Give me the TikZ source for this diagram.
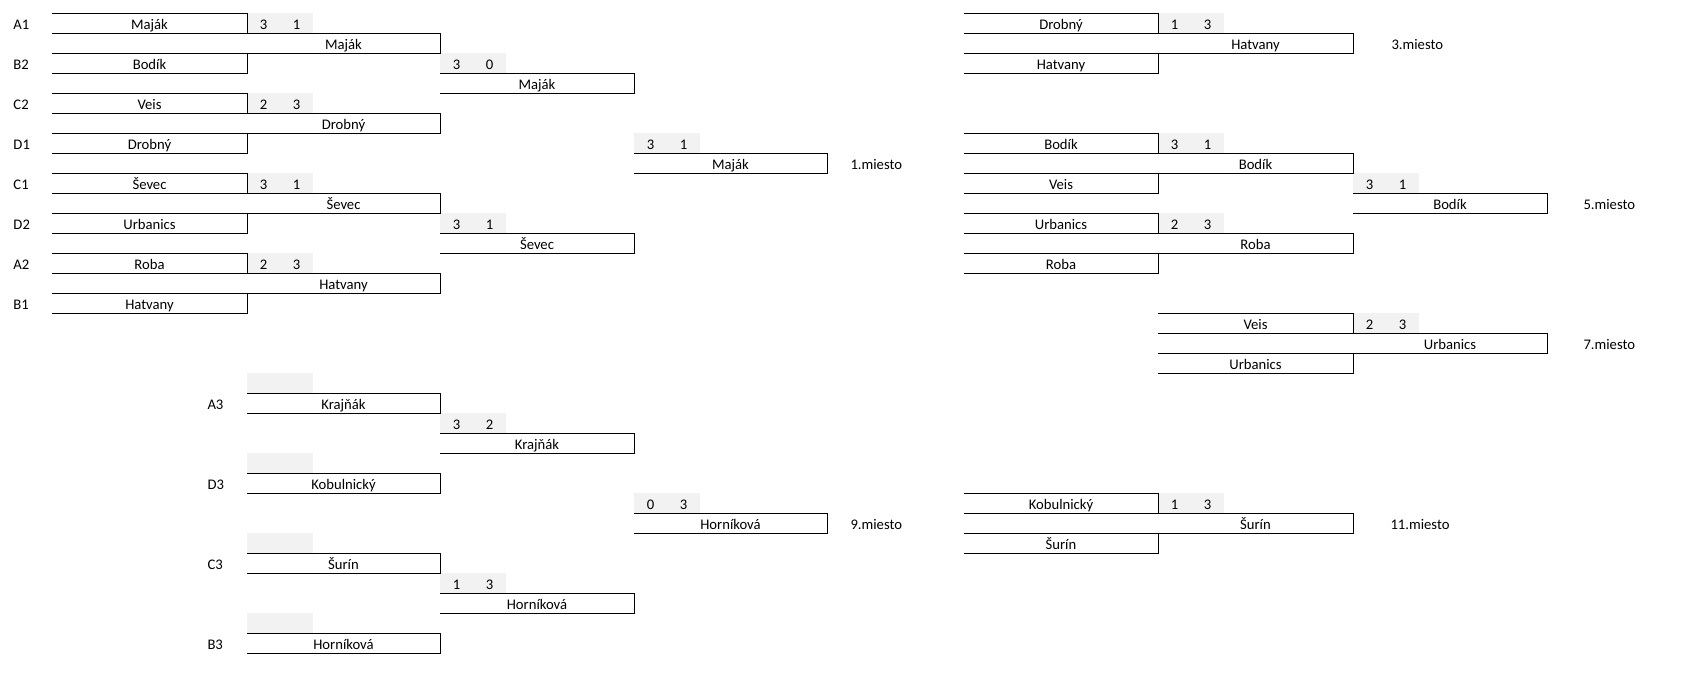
\documentclass[tikz,border=0pt]{standalone}
\usepackage{fontspec}
\setmainfont{Carlito}
\definecolor{scoregray}{HTML}{F2F2F2}
\begin{document}
\begin{tikzpicture}[x=0.75pt,y=-0.75pt,line width=0.75pt,
	txt/.style={font=\fontsize{11}{13}\selectfont,inner sep=0pt,anchor=base},
	ltxt/.style={txt,anchor=base west}]
	\useasboundingbox (0,0) rectangle (1697,695);
	\foreach \x/\r in {247/18,247/22,247/26,247/30}
		\fill[scoregray] (\x,13.33+20*\r) rectangle (\x+66,33.33+20*\r);
	\foreach \x/\r/\a/\b [count=\i] in {247/0/3/1,440/2/3/0,247/4/2/3,634/6/3/1,247/8/3/1,440/10/3/1,247/12/2/3,
			440/20/3/2,634/24/0/3,440/28/1/3,
			1158/0/1/3,1158/6/3/1,1353/8/3/1,1158/10/2/3,1353/15/2/3,1158/24/1/3}{
		\fill[scoregray] (\x,13.33+20*\r) rectangle (\x+66,33.33+20*\r);
		\draw(\x+16.5,29.33+20*\r)node[txt](sa\i){\a};
		\draw(\x+49.5,29.33+20*\r)node[txt](sb\i){\b};
	}
	\foreach \xa/\xb/\r in {52/247/0,52/440/1,52/247/2,52/247/4,52/440/5,52/247/6,
			52/247/8,52/440/9,52/247/10,52/247/12,52/440/13,52/247/14,
			440/634/3,440/634/11,634/827/7,
			247/440/19,247/440/23,247/440/27,247/440/31,440/634/21,440/634/29,634/827/25,
			964/1158/0,964/1353/1,964/1158/2,
			964/1158/6,964/1353/7,964/1158/8,964/1158/10,964/1353/11,964/1158/12,1353/1547/9,
			1158/1353/15,1158/1547/16,1158/1353/17,
			964/1158/24,964/1353/25,964/1158/26}
		\draw (\xa,13.33+20*\r) -- (\xb,13.33+20*\r) -- (\xb,33.33+20*\r) -- (\xa,33.33+20*\r);
	\foreach \x/\r/\t [count=\i] in {149.5/0/Maják,343.5/1/Maják,149.5/2/Bodík,
			149.5/4/Veis,343.5/5/Drobný,149.5/6/Drobný,
			149.5/8/Ševec,343.5/9/Ševec,149.5/10/Urbanics,
			149.5/12/Roba,343.5/13/Hatvany,149.5/14/Hatvany,
			537/3/Maják,537/11/Ševec,730.5/7/Maják,
			343.5/19/Krajňák,343.5/23/Kobulnický,343.5/27/Šurín,343.5/31/Horníková,
			537/21/Krajňák,537/29/Horníková,730.5/25/Horníková,
			1061/0/Drobný,1255.5/1/Hatvany,1061/2/Hatvany,
			1061/6/Bodík,1255.5/7/Bodík,1061/8/Veis,
			1061/10/Urbanics,1255.5/11/Roba,1061/12/Roba,1450/9/Bodík,
			1255.5/15/Veis,1450/16/Urbanics,1255.5/17/Urbanics,
			1061/24/Kobulnický,1255.5/25/Šurín,1061/26/Šurín}
		\draw(\x,29.33+20*\r)node[txt](team\i){\t};
	\foreach \x/\r/\t [count=\i] in {13/0/A1,13/2/B2,13/4/C2,13/6/D1,13/8/C1,13/10/D2,13/12/A2,13/14/B1,
			207/19/A3,207/23/D3,207/27/C3,207/31/B3,
			850/7/1.miesto,850/25/9.miesto,1391/1/3.miesto,1583/9/5.miesto,1583/16/7.miesto,1390/25/11.miesto}
		\draw(\x,29.33+20*\r)node[ltxt](lab\i){\t};
\end{tikzpicture}
\end{document}
